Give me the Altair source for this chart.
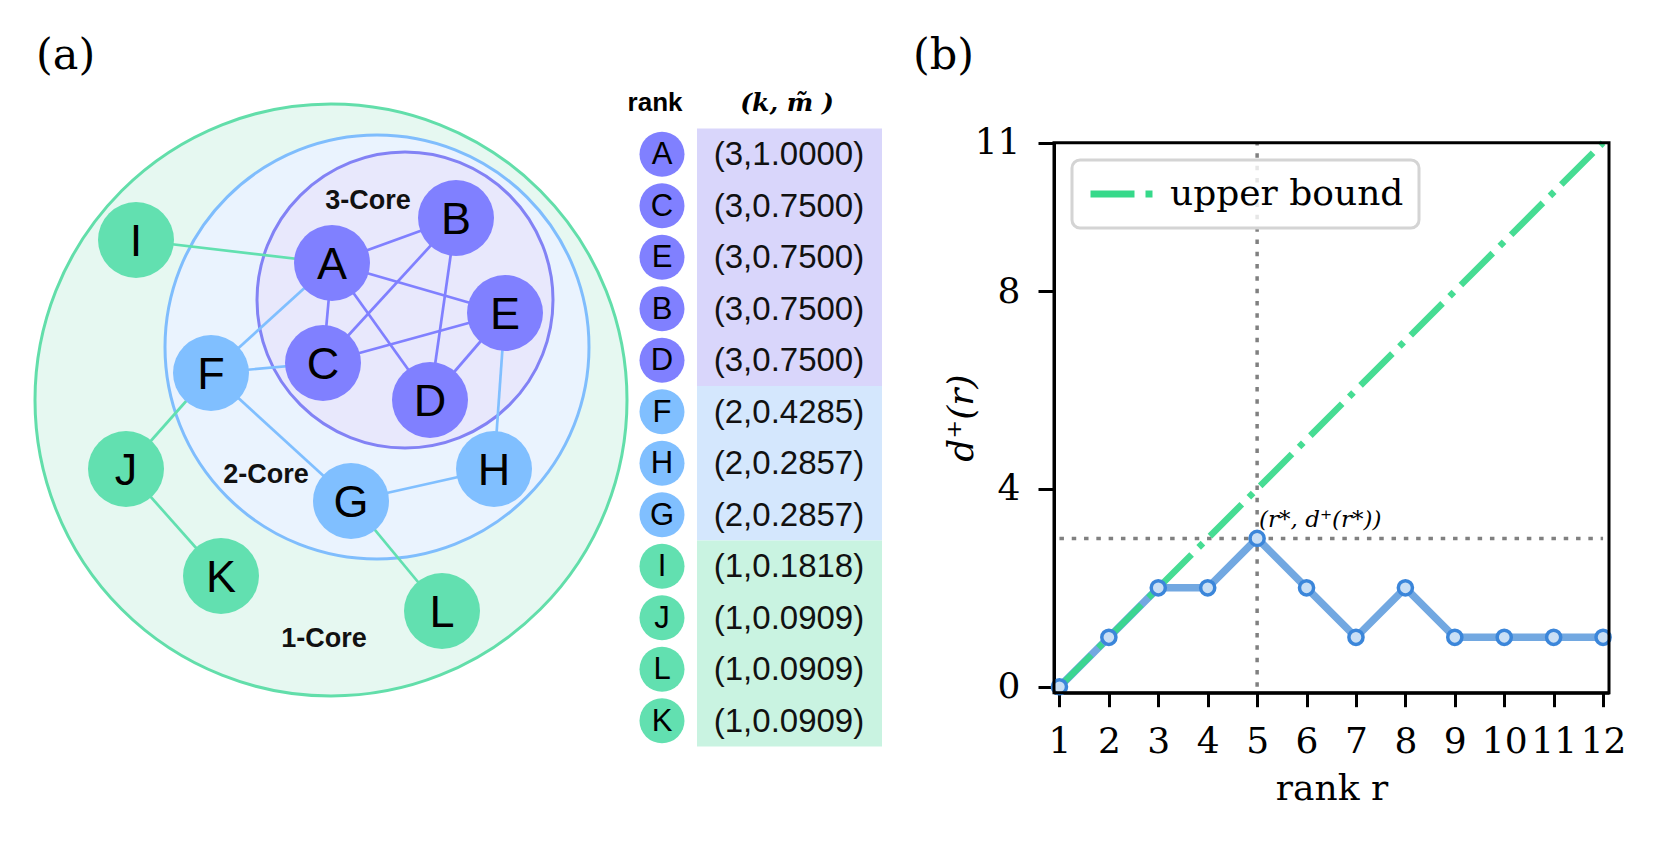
import altair as alt
import pandas as pd

SANS = "Liberation Sans"
SERIF = "DejaVu Serif"

# ------------------------------------------------------------------
# Panel (a): k-core decomposition of a small network
# ------------------------------------------------------------------
nodes = ["A", "B", "C", "D", "E", "F", "G", "H", "I", "J", "K", "L"]
node_core = [3, 3, 3, 3, 3, 2, 2, 2, 1, 1, 1, 1]
# drawing layout of the nodes (page pixels)
layout_x = [332, 456, 323, 430, 505, 211, 351, 494, 136, 126, 221, 442]
layout_y = [263, 218, 363, 400, 313, 373, 501, 469, 240, 469, 576, 611]

edge_from = ["A", "A", "A", "A", "B", "B", "C", "E", "F", "F", "F", "E", "G", "I", "F", "J", "G"]
edge_to   = ["B", "C", "E", "D", "C", "D", "E", "D", "A", "C", "G", "H", "H", "A", "J", "K", "L"]

core_k = [1, 2, 3]
core_text = ["1-Core", "2-Core", "3-Core"]
# drawing layout of the core rings and their labels (page pixels)
ring_cx = [331, 377, 405]
ring_cy = [400, 347, 300]
ring_r = [296, 212, 148]
core_label_x = [324, 266, 368]
core_label_y = [639, 475, 201]

# ranking table
rank_nodes = ["A", "C", "E", "B", "D", "F", "H", "G", "I", "J", "L", "K"]
rank_k = [3, 3, 3, 3, 3, 2, 2, 2, 1, 1, 1, 1]
rank_m = ["1.0000", "0.7500", "0.7500", "0.7500", "0.7500", "0.4285",
          "0.2857", "0.2857", "0.1818", "0.0909", "0.0909", "0.0909"]

# ------------------------------------------------------------------
# Panel (b): d+(r) versus rank
# ------------------------------------------------------------------
ranks = list(range(1, 13))
d_plus = [0, 1, 2, 2, 3, 2, 1, 2, 1, 1, 1, 1]
ub_rank = [1, 12]
ub_value = [0, 11]

# ------------------------------------------------------------------
# styles
# ------------------------------------------------------------------
NODE_COL = {3: "#8080ff", 2: "#80bfff", 1: "#62e0b0"}
RING_FILL = {3: "#e8e8fc", 2: "#eaf3fe", 1: "#e6f8f1"}
RING_STROKE = {3: "#8282f5", 2: "#7fbdfd", 1: "#62deaa"}
TABLE_FILL = {3: "#d9d6fb", 2: "#d4e7fd", 1: "#c9f3e1"}
BLUE_LINE = "#72a8e1"
GREEN = "#36d98a"
GREY = "#808080"

W, H = 1645, 833
PAGE = 8

# table geometry (page pixels)
TABLE_TOP = 128.5
ROW_H = 51.5
CIRCLE_X = 662
CELL_X0, CELL_X1 = 697, 882
VALUE_X = 789

# panel (b) scale geometry
XB_DOM = [0.89, 12.12]
YB_DOM = [-0.12, 11]
XB_RANGE = [1054 - PAGE, 1609 - PAGE]
YB_RANGE = [692.7 - PAGE, 142.7 - PAGE]


def ax(field):
    return alt.X(field, type="quantitative",
                 scale=alt.Scale(domain=[PAGE, PAGE + W], range=[0, W]), axis=None)


def ay(field):
    return alt.Y(field, type="quantitative",
                 scale=alt.Scale(domain=[PAGE, PAGE + H], range=[0, H]), axis=None)


x_axis = alt.Axis(orient="bottom", values=ranks, format="d", title="rank r",
                  offset=-(H - YB_RANGE[0]), tickSize=14, tickWidth=3, tickColor="black",
                  domainWidth=3, domainColor="black", grid=False,
                  labelFont=SERIF, labelFontSize=36, labelColor="black", labelPadding=18,
                  labelOverlap=False, labelFlush=False, labelBound=False,
                  titleFont=SERIF, titleFontSize=36, titleFontWeight="normal",
                  titleColor="black", titlePadding=12)
y_axis = alt.Axis(orient="left", values=[0, 4, 8, 11], format="d", title="d⁺(r)",
                  offset=-XB_RANGE[0], tickSize=16, tickWidth=3, tickColor="black",
                  domainWidth=3, domainColor="black", grid=False,
                  labelFont=SERIF, labelFontSize=36, labelColor="black", labelPadding=18,
                  labelOverlap=False, labelFlush=False, labelBound=False,
                  titleFont=SERIF, titleFontSize=36, titleFontWeight="normal",
                  titleFontStyle="italic", titleColor="black", titlePadding=-6)


def bx(field):
    return alt.X(field, type="quantitative",
                 scale=alt.Scale(domain=XB_DOM, range=XB_RANGE, nice=False, zero=False),
                 axis=x_axis)


def by(field):
    return alt.Y(field, type="quantitative",
                 scale=alt.Scale(domain=YB_DOM, range=YB_RANGE, nice=False, zero=False),
                 axis=y_axis)


# ------------------------------------------------------------------
# data frames for panel (a)
# ------------------------------------------------------------------
pos = {n: (x, y) for n, x, y in zip(nodes, layout_x, layout_y)}
core_of = dict(zip(nodes, node_core))

df_nodes = pd.DataFrame({"name": nodes, "x": layout_x, "y": layout_y,
                         "fill": [NODE_COL[c] for c in node_core]})
df_edges = pd.DataFrame({
    "x": [pos[a][0] for a in edge_from], "y": [pos[a][1] for a in edge_from],
    "x2": [pos[b][0] for b in edge_to], "y2": [pos[b][1] for b in edge_to],
    "stroke": [NODE_COL[min(core_of[a], core_of[b])] for a, b in zip(edge_from, edge_to)],
})
df_rings = pd.DataFrame({
    "x": ring_cx, "y": ring_cy, "size": [(2 * r) ** 2 for r in ring_r],
    "fill": [RING_FILL[k] for k in core_k], "stroke": [RING_STROKE[k] for k in core_k],
})
df_core_labels = pd.DataFrame({"x": core_label_x, "y": core_label_y, "t": core_text})

df_table = pd.DataFrame({
    "name": rank_nodes,
    "t": [f"({k},{m})" for k, m in zip(rank_k, rank_m)],
    "y": [TABLE_TOP + ROW_H * (i + 0.5) for i in range(len(rank_nodes))],
    "cx": [CIRCLE_X] * len(rank_nodes),
    "vx": [VALUE_X] * len(rank_nodes),
    "fill": [NODE_COL[k] for k in rank_k],
})
blocks = []
for k in [3, 2, 1]:
    idx = [i for i, kk in enumerate(rank_k) if kk == k]
    blocks.append({"x": CELL_X0, "x2": CELL_X1,
                   "y": TABLE_TOP + ROW_H * min(idx), "y2": TABLE_TOP + ROW_H * (max(idx) + 1),
                   "fill": TABLE_FILL[k]})
df_blocks = pd.DataFrame(blocks)
df_headers = pd.DataFrame({"x": [655, 787], "y": [103, 103], "t": ["rank", "(k, m\u0303 )"]})
df_panel_labels = pd.DataFrame({"x": [36, 913], "y": [69, 69], "t": ["(a)", "(b)"]})

# ------------------------------------------------------------------
# panel (a) layers
# ------------------------------------------------------------------
rings = alt.Chart(df_rings).mark_point(shape="circle", filled=True, opacity=1, strokeWidth=3).encode(
    x=ax("x"), y=ay("y"), size=alt.Size("size:Q", scale=None),
    fill=alt.Fill("fill:N", scale=None), stroke=alt.Stroke("stroke:N", scale=None))
core_labels = alt.Chart(df_core_labels).mark_text(
    font=SANS, fontSize=27, fontWeight="bold", color="#111111", align="center", baseline="middle").encode(
    x=ax("x"), y=ay("y"), text="t:N")
edges = alt.Chart(df_edges).mark_rule(strokeWidth=2.7).encode(
    x=ax("x"), y=ay("y"), x2=alt.X2("x2:Q"), y2=alt.Y2("y2:Q"),
    stroke=alt.Stroke("stroke:N", scale=None))
node_marks = alt.Chart(df_nodes).mark_point(shape="circle", filled=True, opacity=1, size=76 ** 2,
                                            strokeWidth=0).encode(
    x=ax("x"), y=ay("y"), fill=alt.Fill("fill:N", scale=None))
node_text = alt.Chart(df_nodes).mark_text(
    font=SANS, fontSize=45, color="black", align="center", baseline="middle", dy=2).encode(
    x=ax("x"), y=ay("y"), text="name:N")

table_rects = alt.Chart(df_blocks).mark_rect().encode(
    x=ax("x"), x2=alt.X2("x2:Q"), y=ay("y"), y2=alt.Y2("y2:Q"), fill=alt.Fill("fill:N", scale=None))
table_circles = alt.Chart(df_table).mark_point(shape="circle", filled=True, opacity=1, size=45 ** 2,
                                               strokeWidth=0).encode(
    x=ax("cx"), y=ay("y"), fill=alt.Fill("fill:N", scale=None))
table_letters = alt.Chart(df_table).mark_text(
    font=SANS, fontSize=31, color="black", align="center", baseline="middle", dy=1).encode(
    x=ax("cx"), y=ay("y"), text="name:N")
table_values = alt.Chart(df_table).mark_text(
    font=SANS, fontSize=33, color="#111111", align="center", baseline="middle", dy=1).encode(
    x=ax("vx"), y=ay("y"), text="t:N")
header_rank = alt.Chart(df_headers.iloc[[0]]).mark_text(
    font=SANS, fontSize=26, fontWeight="bold", color="black", align="center", baseline="middle").encode(
    x=ax("x"), y=ay("y"), text="t:N")
header_km = alt.Chart(df_headers.iloc[[1]]).mark_text(
    font=SERIF, fontSize=25, fontWeight="bold", fontStyle="italic", color="black",
    align="center", baseline="middle").encode(
    x=ax("x"), y=ay("y"), text="t:N")
panel_labels = alt.Chart(df_panel_labels).mark_text(
    font=SERIF, fontSize=43, color="black", align="left", baseline="alphabetic").encode(
    x=ax("x"), y=ay("y"), text="t:N")

panel_a = alt.layer(rings, edges, core_labels, node_marks, node_text,
                    table_rects, table_circles, table_letters, table_values,
                    header_rank, header_km, panel_labels)

# ------------------------------------------------------------------
# panel (b) layers
# ------------------------------------------------------------------
df_line = pd.DataFrame({"r": ranks, "d": d_plus})
df_ub = pd.DataFrame({"r": ub_rank, "d": ub_value, "series": ["upper bound"] * 2})
i_star = max(range(len(d_plus)), key=lambda i: d_plus[i])
r_star, d_star = ranks[i_star], d_plus[i_star]
df_vrule = pd.DataFrame({"r": [r_star], "d": [0], "d2": [YB_DOM[1]]})
df_hrule = pd.DataFrame({"r": [ranks[0]], "r2": [ranks[-1]], "d": [d_star]})
df_note = pd.DataFrame({"r": [r_star], "d": [d_star], "t": ["(r*, d⁺(r*))"]})
df_frame = pd.DataFrame({"r": [XB_DOM[0]], "r2": [XB_DOM[1]], "d": [YB_DOM[0]], "d2": [YB_DOM[1]]})

vrule = alt.Chart(df_vrule).mark_rule(color=GREY, strokeWidth=3.5, strokeDash=[4.5, 7.8]).encode(
    x=bx("r"), y=by("d"), y2=alt.Y2("d2:Q"))
hrule = alt.Chart(df_hrule).mark_rule(color=GREY, strokeWidth=3.5, strokeDash=[4.5, 7.8]).encode(
    x=bx("r"), x2=alt.X2("r2:Q"), y=by("d"))
blue_line = alt.Chart(df_line).mark_line(color=BLUE_LINE, strokeWidth=7.5).encode(
    x=bx("r"), y=by("d"))
ub_line = alt.Chart(df_ub).mark_line(strokeWidth=6.5, strokeDash=[45, 10, 6, 10], opacity=0.92).encode(
    x=bx("r"), y=by("d"),
    color=alt.Color("series:N", scale=alt.Scale(domain=["upper bound"], range=[GREEN]),
                    legend=alt.Legend(title=None, orient="none", legendX=1072 - PAGE, legendY=160 - PAGE,
                                      symbolType="stroke", symbolSize=72 ** 2, symbolStrokeWidth=7,
                                      symbolDash=[44, 11, 7, 11], symbolOpacity=1,
                                      labelFont=SERIF, labelFontSize=36, labelColor="black",
                                      labelLimit=500, labelOffset=4, padding=15, clipHeight=38,
                                      fillColor="rgba(255,255,255,0.8)", strokeColor="#d4d4d4",
                                      cornerRadius=8)))
points = alt.Chart(df_line).mark_point(shape="circle", filled=True, opacity=1, size=200,
                                       fill="#c9dff5", stroke="#3b86da", strokeWidth=3.5).encode(
    x=bx("r"), y=by("d"))
note = alt.Chart(df_note).mark_text(font=SERIF, fontSize=23, fontStyle="italic", color="black",
                                    align="left", baseline="bottom", dx=2, dy=-6).encode(
    x=bx("r"), y=by("d"), text="t:N")
frame = alt.Chart(df_frame).mark_rect(fillOpacity=0, stroke="black", strokeWidth=3).encode(
    x=bx("r"), x2=alt.X2("r2:Q"), y=by("d"), y2=alt.Y2("d2:Q"))

panel_b = alt.layer(vrule, hrule, blue_line, ub_line, points, note, frame)

chart = alt.layer(panel_a, panel_b).resolve_scale(
    x="independent", y="independent"
).properties(
    width=W, height=H, padding=0, autosize=alt.AutoSizeParams(type="none")
).configure_view(stroke=None).configure_legend(strokeWidth=3)

chart.save("out.html", embed_options={"renderer": "svg", "actions": False})
